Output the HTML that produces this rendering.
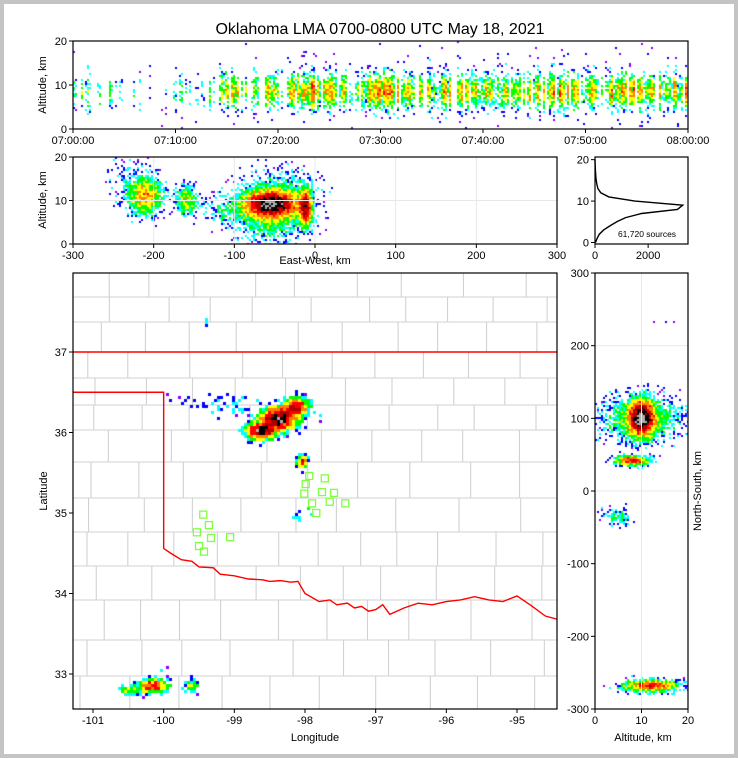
<!DOCTYPE html>
<html><head><meta charset="utf-8">
<style>
html,body{margin:0;padding:0;background:#fff}
#wrap{position:relative;width:738px;height:758px;overflow:hidden;background:#fff;font-family:"Liberation Sans","DejaVu Sans",sans-serif}
#frame{position:absolute;left:0;top:0;width:730px;height:750px;border:4px solid #c4c4c4;background:#fff}
svg,canvas{position:absolute;left:0;top:0}
</style></head>
<body>
<div id="wrap">
<div id="frame"></div>
<svg id="bg" width="738" height="758"></svg>
<canvas id="cv" width="738" height="758"></canvas>
<svg id="fg" width="738" height="758"></svg>
</div>
<script>
// ---------- DATA ----------
const minuteActivity = [0.45,0.4,0.45,0.4,0.35,0.3,0.25,0.2,0.15,0.25,0.3,0.2,0.25,0.5,0.55,0.6,0.6,0.55,0.6,0.65,0.6,0.65,0.7,0.75,0.7,0.7,0.65,0.6,0.65,0.7,0.7,0.65,0.6,0.6,0.55,0.6,0.65,0.6,0.55,0.6,0.6,0.55,0.6,0.6,0.65,0.7,0.7,0.75,0.7,0.7,0.7,0.65,0.7,0.7,0.7,0.65,0.7,0.65,0.7,0.7];
const ewClusters = [ // x km, alt km, sx, sz, peak
 [-55,9.2,20,1.8,0.8],[-12,8.5,5,2.5,0.6],[-55,6,28,3.5,0.12],[-210,11,12,2.5,0.3],[-225,14,18,4,0.04],
 [-160,10,8,2,0.22],[-115,7.5,16,2,0.06],[-45,13,28,3,0.06]];
const mapClusters = [ // lon, lat, slon, slat, peak
 [-98.62,36.02,0.12,0.06,0.8],[-98.38,36.17,0.14,0.08,0.75],[-98.12,36.32,0.09,0.06,0.6],
 [-98.3,36.2,0.22,0.12,0.1],[-99.1,36.33,0.3,0.08,0.04],[-99.7,36.4,0.2,0.05,0.025],
 [-98.04,35.64,0.04,0.05,0.5],[-98.08,34.95,0.05,0.03,0.1],[-97.93,35.05,0.02,0.05,0.08],
 [-99.4,37.38,0.02,0.03,0.08],[-100.15,32.85,0.13,0.05,0.5],[-100.5,32.8,0.11,0.04,0.15],
 [-99.6,32.85,0.06,0.05,0.2],[-98.97,32.87,0.03,0.03,0.08],[-100.0,33.05,0.04,0.05,0.04]];
const nsClusters = [ // alt km, ns km, salt, sns, peak
 [10,100,1.6,14,0.8],[10,100,5,18,0.18],[8,42,2.2,4,0.5],[5,-35,1.8,8,0.1],[12,-268,3.5,5,0.45],[14,233,2,2,0.02]];
const histAlt = [0,1,2,3,4,5,6,7,8,9,10,11,12,13,14,15,16,17,18,19,20];
const histCount = [20,80,160,320,560,820,1150,1750,3100,3300,1500,520,220,110,70,45,30,18,10,5,0];
const stationLon = [-99.44,-99.36,-99.53,-99.33,-99.50,-99.43,-99.06,-97.94,-97.72,-97.99,-97.76,-98.01,-97.59,-97.90,-97.65,-97.43,-97.84];
const stationLat = [34.98,34.85,34.76,34.69,34.59,34.52,34.70,35.46,35.43,35.36,35.26,35.24,35.25,35.12,35.14,35.12,35.00];
const redRiverLon = [-100,-99.9,-99.75,-99.6,-99.5,-99.3,-99.2,-99.0,-98.8,-98.6,-98.5,-98.35,-98.2,-98.1,-98.0,-97.9,-97.8,-97.65,-97.55,-97.4,-97.3,-97.2,-97.1,-97.0,-96.9,-96.8,-96.6,-96.4,-96.2,-96.0,-95.8,-95.6,-95.4,-95.2,-95.0,-94.8,-94.6,-94.43];
const redRiverLat = [34.56,34.5,34.42,34.4,34.33,34.32,34.24,34.22,34.18,34.17,34.15,34.16,34.14,34.15,34.0,33.95,33.9,33.92,33.86,33.88,33.82,33.84,33.78,33.8,33.86,33.74,33.82,33.88,33.86,33.9,33.92,33.96,33.92,33.9,33.97,33.85,33.72,33.68];

// ---------- SCALES ----------
const P1={x0:73,x1:688,y0:41,y1:129}, P2={x0:73,x1:557,y0:157,y1:244}, PH={x0:595,x1:688,y0:157,y1:244};
const PM={x0:73,x1:557,y0:273,y1:709}, PN={x0:595,x1:688,y0:273,y1:709};
const tX=m=>P1.x0+m/60*(P1.x1-P1.x0), tY=z=>P1.y1-z/20*(P1.y1-P1.y0);
const eX=x=>P2.x0+(x+300)/600*(P2.x1-P2.x0), eY=z=>P2.y1-z/20*(P2.y1-P2.y0);
const hX=c=>PH.x0+c/3500*(PH.x1-PH.x0), hY=z=>PH.y1-z/21*(PH.y1-PH.y0)-1.5;
const mX=l=>93+(l+101)*70.67, mY=l=>352+(37-l)*80.5;
const nX=a=>PN.x0+a/20*(PN.x1-PN.x0), nY=k=>PN.y1-(k+300)/600*(PN.y1-PN.y0);

const NS='http://www.w3.org/2000/svg';
function el(parent,tag,attrs,text){const e=document.createElementNS(NS,tag);for(const k in attrs)e.setAttribute(k,attrs[k]);if(text!==undefined)e.textContent=text;parent.appendChild(e);return e;}
const bg=document.getElementById('bg'), fg=document.getElementById('fg');

function hash(a,b,c){let h=(a*374761393+b*668265263+c*2147483647)|0;h=(h^(h>>>13))*1274126177|0;h=h^(h>>>16);return ((h>>>0)%10000)/10000;}
const rowsY=[297,322,352,378,405,430,462,498,532,566,600,640,676];
const countyG=el(bg,'g',{stroke:'#d2d2d2','stroke-width':'1.1',fill:'none'});


for(let r=0;r<rowsY.length;r++){
  el(countyG,'line',{x1:73,x2:557,y1:rowsY[r],y2:rowsY[r]});
  const yTop=r===0?273:rowsY[r-1];
  let x=73+10+hash(r,2,1)*30;
  while(x<557){el(countyG,'line',{x1:x,x2:x,y1:yTop,y2:rowsY[r]});x+=36+hash(r,x|0,7)*28;}
}
{let x=80;while(x<557){el(countyG,'line',{x1:x,x2:x,y1:676,y2:709});x+=40+hash(9,x|0,3)*20;}}
let d='M73,'+mY(37)+' L557,'+mY(37)+' M73,'+mY(36.5)+' L'+mX(-100)+','+mY(36.5)+' L'+mX(-100)+','+mY(34.56);
for(let i=0;i<redRiverLon.length;i++) d+=' L'+mX(redRiverLon[i])+','+mY(redRiverLat[i]);
const border=el(bg,'path',{d:d,stroke:'#ff0000','stroke-width':'1.4',fill:'none'});



// ---------- DENSITY RENDERING ----------
const cv=document.getElementById('cv'), ctx=cv.getContext('2d');
const cmap=['#8000ff','#0000ff','#00ffff','#00ff00','#ffff00','#ff8000','#ff0000','#b00000','#000000','#b0b0b0'];
function col(I,j){let v=0.08+0.9*Math.pow(Math.min(1,I),0.6)+(j-0.5)*0.18;v=Math.max(0,Math.min(0.999,v));return cmap[Math.floor(v*cmap.length)];}
function density(P,cs,seed,fn){
  ctx.save();ctx.beginPath();ctx.rect(P.x0,P.y0,P.x1-P.x0,P.y1-P.y0);ctx.clip();
  for(let px=P.x0;px<P.x1;px+=cs)for(let py=P.y0;py<P.y1;py+=cs){
    const I=fn(px+cs/2,py+cs/2); if(I<0.004)continue;
    const p=Math.min(1,I*9); if(hash(px,py,seed)>p)continue;
    ctx.fillStyle=col(I,hash(py,px,seed+1));ctx.fillRect(px,py,cs,cs);
  }
  ctx.restore();
}
function gsum(cl,a,b){let s=0;for(const c of cl){const dx=(a-c[0])/c[2],dy=(b-c[1])/c[3];s+=c[4]*Math.exp(-0.5*(dx*dx+dy*dy));}return s;}
ctx.save();ctx.beginPath();ctx.rect(P1.x0,P1.y0,P1.x1-P1.x0,P1.y1-P1.y0);ctx.clip();
for(let px=P1.x0;px<P1.x1;px+=2){
  const m=(px-P1.x0)/(P1.x1-P1.x0)*60, a=minuteActivity[Math.min(59,Math.floor(m))];
  const cf=hash(px,7,11); if(cf>a+0.15)continue;
  for(let py=P1.y0;py<P1.y1;py+=2){
    const z=(P1.y1-py)/(P1.y1-P1.y0)*20;
    const I=a*0.6*(0.2+0.8*cf)*Math.exp(-0.5*Math.pow((z-8.8)/2.4,2))+0.003;
    if(hash(px,py,13)>Math.min(1,I*5))continue;
    ctx.fillStyle=col(I,hash(py,px,14));ctx.fillRect(px,py,2,2);
  }
}
ctx.restore();
density(P2,2,21,(x,y)=>{const X=(x-P2.x0)/(P2.x1-P2.x0)*600-300,Z=(P2.y1-y)/(P2.y1-P2.y0)*20;return gsum(ewClusters,X,Z);});
density(PM,3,31,(x,y)=>{const L=-101+(x-93)/70.67,A=37-(y-352)/80.5;return gsum(mapClusters,L,A);});
density(PN,2,41,(x,y)=>{const A=(x-PN.x0)/(PN.x1-PN.x0)*20,K=(PN.y1-y)/(PN.y1-PN.y0)*600-300;return gsum(nsClusters,A,K);});

// ---------- FOREGROUND AXES ----------
function grid(P,xs,ys){for(const x of xs)el(fg,'line',{x1:x,x2:x,y1:P.y0,y2:P.y1,stroke:'#e8e8e8','stroke-width':1});
 for(const y of ys)el(fg,'line',{x1:P.x0,x2:P.x1,y1:y,y2:y,stroke:'#e8e8e8','stroke-width':1});}
function box(P,name){const r=el(fg,'rect',{x:P.x0,y:P.y0,width:P.x1-P.x0,height:P.y1-P.y0,fill:'none',stroke:'#000','stroke-width':1.2});
 }
function xt(P,xs,labels,fs){xs.forEach((x,i)=>{el(fg,'line',{x1:x,x2:x,y1:P.y1,y2:P.y1+4,stroke:'#000'});
 el(fg,'text',{x:x,y:P.y1+15,'font-size':fs||11,'text-anchor':'middle',fill:'#000'},labels[i]);});}
function yt(P,ys,labels){ys.forEach((y,i)=>{const x=P.x0;el(fg,'line',{x1:x-4,x2:x,y1:y,y2:y,stroke:'#000'});
 el(fg,'text',{x:x-6,y:y+4,'font-size':11,'text-anchor':'end',fill:'#000'},labels[i]);});}
function rot(x,y,t,name){const e=el(fg,'text',{x:x,y:y,'font-size':11,'text-anchor':'middle',transform:'rotate(-90 '+x+' '+y+')'},t);
 }

const title=el(fg,'text',{x:380,y:34,'font-size':16,'text-anchor':'middle'},'Oklahoma LMA 0700-0800 UTC May 18, 2021');



const tTicks=[0,10,20,30,40,50,60], tLabels=['07:00:00','07:10:00','07:20:00','07:30:00','07:40:00','07:50:00','08:00:00'];
const zTicks=[0,10,20], zLabels=['0','10','20'];
box(P1,'time-height-panel');xt(P1,tTicks.map(tX),tLabels);yt(P1,zTicks.map(tY),zLabels);
rot(46,85,'Altitude, km','time-height-y-title');
const ewTicks=[-300,-200,-100,0,100,200,300];
grid(P2,ewTicks.map(eX),[eY(10)]);box(P2,'east-west-panel');xt(P2,ewTicks.map(eX),ewTicks.map(String));yt(P2,zTicks.map(eY),zLabels);
rot(46,200,'Altitude, km','east-west-y-title');
{const e=el(fg,'text',{x:315,y:264,'font-size':11,'text-anchor':'middle'},'East-West, km');}
box(PH,'altitude-histogram-panel');xt(PH,[hX(0),hX(2000)],['0','2000']);yt(PH,[hY(0),hY(10),hY(20)],zLabels);
{let hd='';histAlt.forEach((a,i)=>{hd+=(i?' L':'M')+hX(histCount[i]).toFixed(1)+','+hY(a).toFixed(1);});
 const p=el(fg,'path',{d:hd,fill:'none',stroke:'#000','stroke-width':1.4});
 const t=el(fg,'text',{x:647,y:237,'font-size':8.5,'text-anchor':'middle'},'61,720 sources');}
const lonTicks=[-101,-100,-99,-98,-97,-96,-95], latTicks=[33,34,35,36,37];
box(PM,'plan-view-map');xt(PM,lonTicks.map(mX),lonTicks.map(String));yt(PM,latTicks.map(mY),latTicks.map(String));
rot(47,491,'Latitude','latitude-title');
{const e=el(fg,'text',{x:315,y:741,'font-size':11,'text-anchor':'middle'},'Longitude');}
stationLon.forEach((l,i)=>{const s=el(fg,'rect',{x:mX(l)-3.5,y:mY(stationLat[i])-3.5,width:7,height:7,fill:'none',stroke:'#80ff40','stroke-width':1.3});
 });
const nsTicks=[-300,-200,-100,0,100,200,300], aTicks=[0,10,20];
grid(PN,[nX(10)],[nY(200),nY(0)]);box(PN,'north-south-panel');xt(PN,aTicks.map(nX),aTicks.map(String));yt(PN,nsTicks.map(nY),nsTicks.map(String));
{const e=el(fg,'text',{x:643,y:741,'font-size':11,'text-anchor':'middle'},'Altitude, km');}
rot(701,491,'North-South, km','north-south-y-title');
</script>
</body></html>
